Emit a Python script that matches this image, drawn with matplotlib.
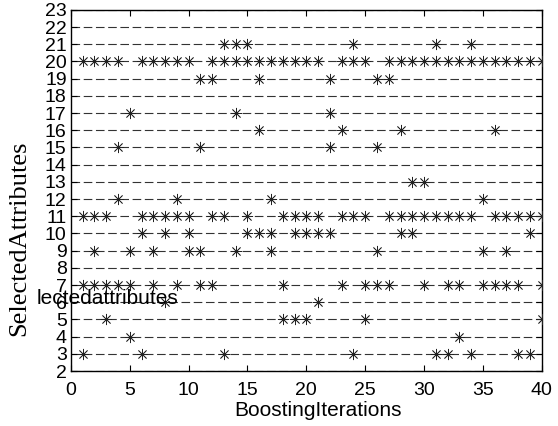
import matplotlib
matplotlib.use("Agg")
import matplotlib.pyplot as plt

# attribute index -> boosting iterations in which it was selected
attributes = [3, 4, 5, 6, 7, 9, 10, 11, 12, 13, 15, 16, 17, 19, 20, 21]
iterations = [
    [1, 6, 13, 24, 31, 32, 34, 38, 39],
    [5, 33],
    [3, 18, 19, 20, 25, 40],
    [8, 21],
    [1, 2, 3, 4, 5, 7, 9, 11, 12, 18, 23, 25, 26, 27, 30, 32, 33, 35, 36, 37, 38, 40],
    [2, 5, 7, 10, 11, 14, 17, 26, 35, 37],
    [6, 8, 10, 15, 16, 17, 19, 20, 21, 22, 28, 29, 39],
    [1, 2, 3, 6, 7, 8, 9, 10, 12, 13, 15, 18, 19, 20, 21, 23, 24, 25,
     27, 28, 29, 30, 31, 32, 33, 34, 36, 37, 38, 39, 40],
    [4, 9, 17, 35],
    [29, 30],
    [4, 11, 22, 26],
    [16, 23, 28, 36],
    [5, 14, 22],
    [11, 12, 16, 22, 26, 27],
    [1, 2, 3, 4, 6, 7, 8, 9, 10, 12, 13, 14, 15, 16, 17, 18, 19, 20, 21,
     23, 24, 25, 27, 28, 29, 30, 31, 32, 33, 34, 35, 36, 37, 38, 39, 40],
    [13, 14, 15, 24, 31, 34],
]
x_ticks = [0, 5, 10, 15, 20, 25, 30, 35, 40]
y_ticks = list(range(2, 24))

plt.rcParams["font.family"] = ["Liberation Sans", "DejaVu Sans"]
plt.rcParams["lines.scale_dashes"] = False

fig = plt.figure(figsize=(5.58, 4.26), dpi=100)
ax = fig.add_axes([0.127, 0.129, 0.844, 0.848])

# dashed line at every attribute level
for y in y_ticks:
    ax.axhline(y, color="#333333", linewidth=0.8, linestyle=(0, (6.2, 2.6)), zorder=1)

for attr, its in zip(attributes, iterations):
    ax.plot(its, [attr] * len(its), linestyle="none", marker=(8, 2, 0),
            markersize=8, markeredgewidth=0.55, color="#222222", zorder=3)

ax.set_xlim(0, 40)
ax.set_ylim(2, 23)
ax.set_xticks(x_ticks)
ax.set_yticks(y_ticks)
ax.tick_params(direction="in", top=True, right=True, length=4, width=0.8,
               labelsize=14, colors="black")
ax.tick_params(axis="x", pad=8)
ax.tick_params(axis="y", pad=3)
for s in ax.spines.values():
    s.set_linewidth(1.0)
    s.set_color("black")

ax.set_xlabel("BoostingIterations", fontsize=15, va="center")
ax.xaxis.set_label_coords(0.524, -0.108)
ax.set_ylabel("SelectedAttributes", fontsize=19, family="Liberation Serif",
              va="center")
ax.yaxis.set_label_coords(-0.110, 0.368)

# clipped legend text left over from the original figure
fig.text(37 / 558, 1 - 304 / 426, "lectedattributes", fontsize=15,
         ha="left", va="baseline")

fig.savefig("out.png", dpi=100)
